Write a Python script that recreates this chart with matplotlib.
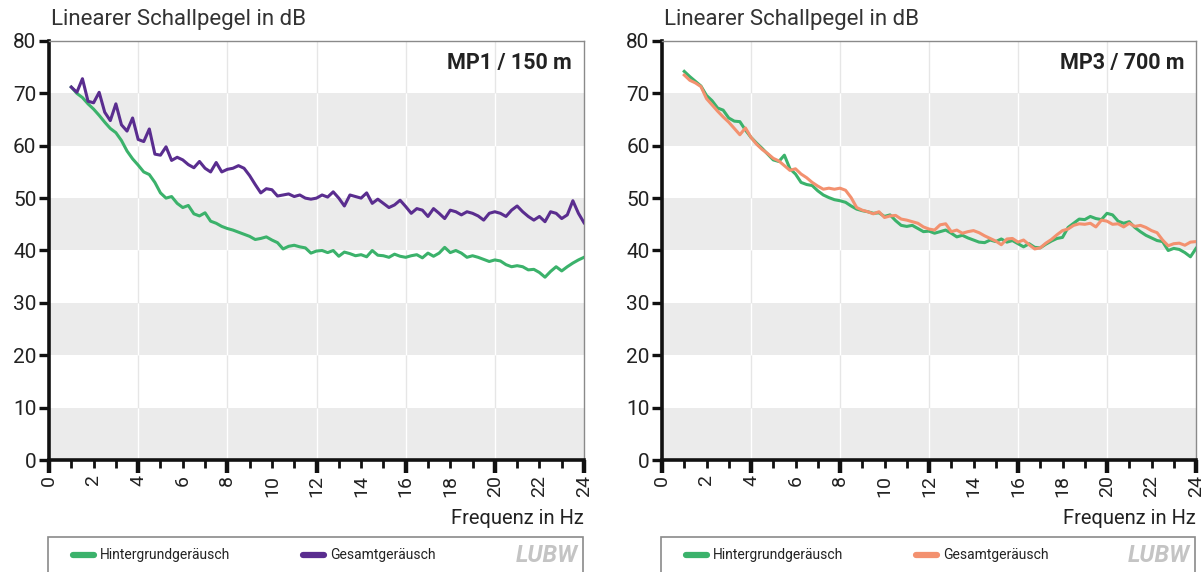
import numpy as np
import matplotlib
matplotlib.use('Agg')
import matplotlib.pyplot as plt
from matplotlib.ticker import FixedLocator, FuncFormatter
from matplotlib.patches import Rectangle
from matplotlib.lines import Line2D

plt.rcParams['font.family'] = ['Roboto', 'DejaVu Sans']

# ---------------- data ----------------
freq = np.arange(1.0, 24.001, 0.25)   # Hz

mp1_hintergrund = [
    71.2, 70.0, 69.2, 68.0, 67.0, 65.8, 64.5, 63.3,
    62.5, 61.0, 59.0, 57.5, 56.3, 55.0, 54.5, 53.0,
    51.0, 50.0, 50.3, 49.0, 48.2, 48.6, 47.0, 46.6,
    47.2, 45.6, 45.2, 44.6, 44.2, 43.9, 43.5, 43.1,
    42.7, 42.1, 42.3, 42.6, 42.0, 41.5, 40.3, 40.8,
    41.0, 40.7, 40.5, 39.5, 39.9, 40.0, 39.6, 40.0,
    38.9, 39.7, 39.4, 39.0, 39.2, 38.8, 40.0, 39.1,
    39.0, 38.7, 39.3, 38.9, 38.7, 39.0, 39.2, 38.6,
    39.5, 38.9, 39.5, 40.6, 39.6, 40.0, 39.5, 38.7,
    39.0, 38.7, 38.3, 37.9, 38.2, 38.0, 37.3, 36.9,
    37.1, 36.9, 36.3, 36.4, 35.8, 34.9, 36.0, 36.9,
    36.1, 36.9, 37.6, 38.2, 38.7]

mp1_gesamt = [
    71.2, 70.2, 72.8, 68.5, 68.2, 70.2, 66.4, 64.8,
    68.0, 64.0, 62.8, 65.3, 61.2, 60.8, 63.2, 58.4,
    58.2, 59.8, 57.2, 57.8, 57.3, 56.4, 55.8, 57.0,
    55.7, 55.0, 56.8, 55.0, 55.5, 55.7, 56.2, 55.7,
    54.3, 52.6, 51.0, 51.8, 51.6, 50.4, 50.6, 50.8,
    50.3, 50.6, 50.0, 49.8, 50.0, 50.6, 50.2, 51.2,
    50.0, 48.5, 50.6, 50.3, 50.0, 51.0, 49.0, 49.8,
    49.0, 48.2, 48.7, 49.6, 48.4, 47.1, 48.0, 47.7,
    46.5, 48.0, 47.1, 46.1, 47.7, 47.4, 46.8, 47.4,
    47.1, 46.6, 45.8, 47.1, 47.4, 47.1, 46.5, 47.7,
    48.5, 47.4, 46.5, 45.8, 46.5, 45.5, 47.4, 47.1,
    46.1, 46.8, 49.5, 47.1, 45.3]

mp3_hintergrund = [
    74.2, 73.2, 72.3, 71.4, 69.6, 68.6, 67.2, 66.8,
    65.3, 64.7, 64.6, 63.0, 61.6, 60.5, 59.5, 58.4,
    57.3, 57.0, 58.2, 55.6, 54.6, 53.0, 52.6, 52.4,
    51.4, 50.6, 50.1, 49.7, 49.5, 49.2, 48.5, 47.9,
    47.6, 47.4, 47.1, 47.2, 46.5, 46.8, 45.7, 44.8,
    44.6, 44.8, 44.2, 43.6, 43.7, 43.3, 43.6, 43.9,
    43.3, 42.6, 42.9, 42.4, 42.0, 41.6, 41.5, 42.0,
    41.7, 42.2, 41.6, 41.9, 41.3, 40.7, 41.3, 40.6,
    40.5, 41.2, 41.8, 42.3, 42.5, 44.4, 45.2, 46.0,
    45.9, 46.5, 46.1, 45.9, 47.1, 46.8, 45.6, 45.2,
    45.5, 44.4, 43.6, 42.9, 42.4, 41.9, 41.7, 40.0,
    40.4, 40.2, 39.6, 38.8, 40.4]

mp3_gesamt = [
    73.5, 72.5, 72.0, 71.3, 69.0, 67.8, 66.6, 65.5,
    64.5, 63.3, 62.1, 63.4, 61.6, 60.3, 59.3, 58.5,
    57.6, 57.1, 56.2, 55.3, 55.6, 54.6, 53.9, 53.0,
    52.3, 51.7, 51.9, 51.7, 51.9, 51.5, 50.1, 48.2,
    47.7, 47.4, 47.0, 47.4, 46.3, 46.6, 46.7, 46.0,
    45.8, 45.5, 45.2, 44.5, 44.1, 43.9, 44.9, 45.1,
    43.6, 43.9, 43.3, 43.6, 43.8, 43.4, 42.8, 42.3,
    41.8, 41.1, 42.2, 42.3, 41.6, 42.0, 41.1, 40.3,
    40.5, 41.4, 42.1, 43.0, 43.8, 44.1, 44.8, 45.1,
    45.0, 45.2, 44.5, 45.8, 45.6, 45.0, 45.1, 44.5,
    45.2, 44.6, 44.8, 44.4, 43.8, 43.4, 42.0, 40.9,
    41.3, 41.4, 41.0, 41.6, 41.7]

titles = ['MP1 / 150 m', 'MP3 / 700 m']
y_label = 'Linearer Schallpegel in dB'
x_label = 'Frequenz in Hz'
legend_labels = ['Hintergrundgeräusch', 'Gesamtgeräusch']
y_ticks = [0, 10, 20, 30, 40, 50, 60, 70, 80]
x_label_ticks = [0, 2, 4, 6, 8, 10, 12, 14, 16, 18, 20, 22, 24]

GREEN = '#3bb26b'
PURPLE = '#5a2d8f'
ORANGE = '#f3916f'
BAND = '#ebebeb'

# ---------------- figure ----------------
W, H = 1203, 572
fig = plt.figure(figsize=(W / 100, H / 100), dpi=100)
fig.patch.set_facecolor('white')

panels = [
    dict(left=49, right=584, bg=mp1_hintergrund, tot=mp1_gesamt, col=PURPLE, title=titles[0]),
    dict(left=662, right=1196, bg=mp3_hintergrund, tot=mp3_gesamt, col=ORANGE, title=titles[1]),
]
top_px, bot_px = 41, 460

for p in panels:
    ax = fig.add_axes([p['left'] / W, 1 - bot_px / H, (p['right'] - p['left']) / W, (bot_px - top_px) / H])
    ax.set_xlim(0, 24)
    ax.set_ylim(0, 80)
    ax.set_facecolor('white')

    for gx in [4, 8, 12, 16, 20]:
        ax.axvline(gx, color='#e6e6e6', lw=1.0, zorder=0.3)
    bands = [(0, 10), (20, 30), (40, 50), (60, 70)]
    for lo, hi in bands:
        ax.axhspan(lo, hi, color=BAND, lw=0, zorder=0.5)
        ax.vlines([4, 8, 12, 16, 20], lo, hi, colors='white', lw=1.0, zorder=0.6)

    ax.plot(freq, p['bg'], color=GREEN, lw=2.2, zorder=3, solid_joinstyle='round')
    ax.plot(freq, p['tot'], color=p['col'], lw=2.2, zorder=3, solid_joinstyle='round')

    for s in ['left', 'bottom']:
        ax.spines[s].set_linewidth(2.6)
        ax.spines[s].set_color('#111111')
    for s in ['top', 'right']:
        ax.spines[s].set_linewidth(1.0)
        ax.spines[s].set_color('#8a8a8a')

    ax.yaxis.set_major_locator(FixedLocator(y_ticks))
    ax.tick_params(axis='y', which='major', length=7, width=2.4, color='#111111',
                   labelsize=15, labelcolor='#222222', pad=2)

    major = [0, 4, 8, 12, 16, 20, 24]
    minor = [v for v in range(0, 25) if v % 4 != 0]
    ax.xaxis.set_major_locator(FixedLocator(major))
    ax.xaxis.set_minor_locator(FixedLocator(minor))
    ax.xaxis.set_major_formatter(FuncFormatter(lambda v, pos: f'{int(round(v))}'))
    ax.xaxis.set_minor_formatter(FuncFormatter(
        lambda v, pos: f'{int(round(v))}' if int(round(v)) in x_label_ticks else ''))
    ax.tick_params(axis='x', which='major', length=9, width=3.2, color='#111111',
                   labelsize=14, labelcolor='#222222', labelrotation=90, pad=2)
    ax.tick_params(axis='x', which='minor', length=6, width=2.0, color='#111111',
                   labelsize=14, labelcolor='#222222', labelrotation=90, pad=5)

    ax.text(0.978, 0.947, p['title'], transform=ax.transAxes, ha='right', va='center',
            fontsize=15.5, fontweight='bold', color='#222222')

    fig.text((p['left'] + 2) / W, 1 - 20 / H, y_label, ha='left', va='center',
             fontsize=16, color='#333333')
    fig.text((p['right']) / W, 1 - 519 / H, x_label, ha='right', va='center',
             fontsize=14.5, color='#222222')

    bx0 = (p['left'] - 1) / W
    bw = (p['right'] - p['left']) / W
    rect = Rectangle((bx0, -0.05), bw, 0.05 + 35 / H, transform=fig.transFigure,
                     fill=False, edgecolor='#8a8a8a', lw=1.2, clip_on=False)
    fig.add_artist(rect)
    ly = 1 - 555 / H
    for off, col, lab in [(24, GREEN, legend_labels[0]), (254, p['col'], legend_labels[1])]:
        x0 = (p['left'] + off) / W
        x1 = (p['left'] + off + 21) / W
        fig.add_artist(Line2D([x0, x1], [ly, ly], transform=fig.transFigure,
                              color=col, lw=4.5, solid_capstyle='round'))
        fig.text((p['left'] + off + 27) / W, ly, lab, ha='left', va='center',
                 fontsize=10, color='#222222')
    fig.text((p['right'] - 6) / W, ly, 'LUBW', ha='right', va='center', fontsize=17,
             fontweight='bold', style='italic', color='#c4c4c4')

fig.savefig('out.png', dpi=100, facecolor='white')
